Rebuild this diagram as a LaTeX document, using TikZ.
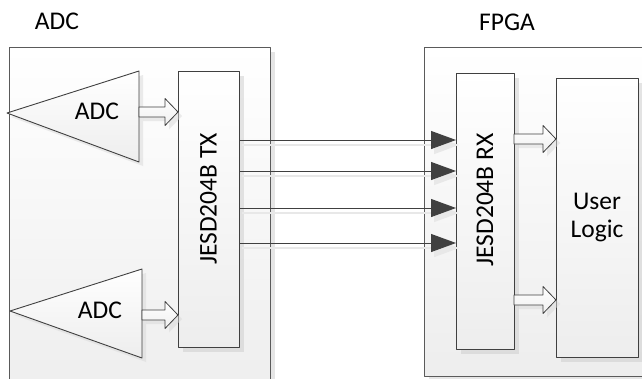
\documentclass[tikz,border=0pt]{standalone}
\usepackage{fontspec}
\setmainfont{Carlito}
\usetikzlibrary{arrows.meta,shadows,calc}

\definecolor{linegray}{HTML}{404040}
\definecolor{framegray}{HTML}{5A5A5A}

\tikzset{
  frame/.style={rectangle,draw=framegray,line width=1pt,inner sep=0pt,outer sep=0pt,
    top color=white,bottom color=black!7,
    drop shadow={shadow xshift=5pt,shadow yshift=-5pt,fill=black!20,opacity=0.5}},
  block/.style={frame,draw=linegray},
  tri/.style={draw=linegray,line width=0.9pt,top color=white,bottom color=black!7,
    drop shadow={shadow xshift=4pt,shadow yshift=-4pt,fill=black!15,opacity=0.5}},
  fatline/.style={draw=linegray,line width=0.8pt,top color=white,bottom color=black!6,
    drop shadow={shadow xshift=4pt,shadow yshift=-4pt,fill=black!15,opacity=0.5}},
  lane/.style={draw=linegray,line width=1pt,-{Triangle[length=25pt,width=18pt]},
    preaction={draw=black!9,line width=1.5pt,-{Triangle[length=25pt,width=18pt]},
      transform canvas={xshift=3pt,yshift=-5pt}}},
  txt/.style={font=\fontsize{25.5}{28}\selectfont,inner sep=0pt},
}

% hollow block arrow between two points
\newcommand{\fatarrow}[2]{%
  \path[fatline] let \p1=(#1), \p2=(#2) in
    (\x1,{\y1+5pt}) -- ({\x2-13pt},{\y1+5pt}) -- ({\x2-13pt},{\y1+13.5pt}) -- (\x2,\y1)
    -- ({\x2-13pt},{\y1-13.5pt}) -- ({\x2-13pt},{\y1-5pt}) -- (\x1,{\y1-5pt}) -- cycle;}

\begin{document}
\begin{tikzpicture}[x=1pt,y=-1pt,line join=round]
  \useasboundingbox (0,0) rectangle (642,378);
  \clip (0,0) rectangle (642,378);

  % chips
  \node[frame,anchor=north west,minimum width=260.5pt,minimum height=360pt] (adcchip) at (9.5,47) {};
  \node[frame,anchor=north west,minimum width=250pt,minimum height=329pt] (fpga) at (424,47) {};
  \node[txt] (adctitle) at (57,21) {ADC};
  \node[txt] (fpgatitle) at (507,22) {FPGA};

  % converters
  \path[tri] (7,113) -- (139,71) -- (139,162) -- cycle;
  \path[tri] (10,311) -- (142,269) -- (142,358) -- cycle;
  \node[txt] (adcA) at (97,111) {ADC};
  \node[txt] (adcB) at (100,310) {ADC};
  \coordinate (adcAout) at (139,112);
  \coordinate (adcBout) at (142,315);

  % link blocks
  \node[block,anchor=north west,minimum width=61pt,minimum height=276pt] (tx) at (178,71) {};
  \node[block,anchor=north west,minimum width=58pt,minimum height=276pt] (rx) at (456,73) {};
  \node[block,anchor=north west,minimum width=82pt,minimum height=279pt,align=center,
    txt,inner sep=0pt] (logic) at (556,78) {User\\Logic};
  \node[txt,rotate=90] (txlabel) at ([yshift=10pt]tx.center) {JESD204B TX};
  \node[txt,rotate=90] (rxlabel) at ([yshift=11pt]rx.center) {JESD204B RX};

  % lanes
  \foreach \y in {140,171,208,243}
    \draw[lane] (tx.east |- 0,\y) -- (rx.west |- 0,\y);

  % data paths
  \coordinate (rxoutA) at (rx.east |- 0,139);
  \coordinate (rxoutB) at (rx.east |- 0,300);
  \fatarrow{adcAout}{tx.west |- adcAout}
  \fatarrow{adcBout}{tx.west |- adcBout}
  \fatarrow{rxoutA}{logic.west |- rxoutA}
  \fatarrow{rxoutB}{logic.west |- rxoutB}
\end{tikzpicture}
\end{document}
